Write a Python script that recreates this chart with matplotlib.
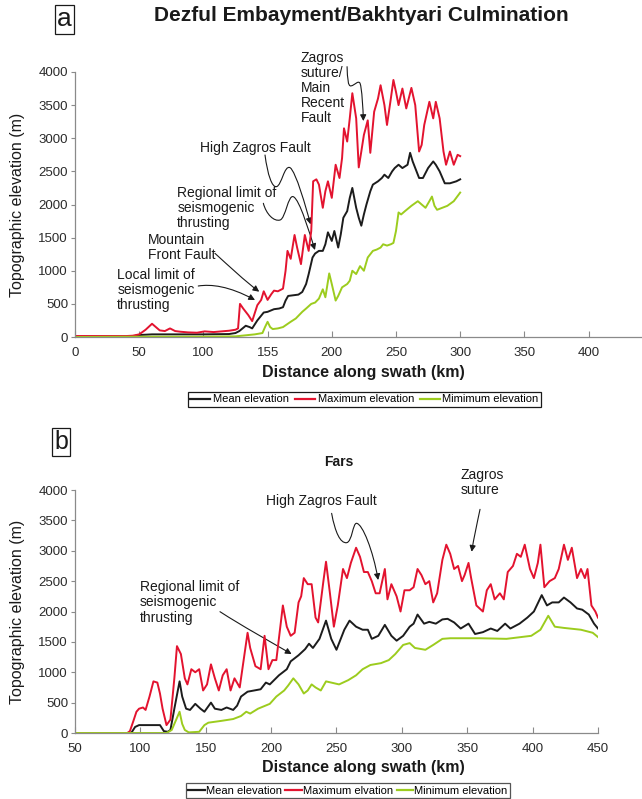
import matplotlib
matplotlib.use('Agg')
import matplotlib.pyplot as plt
import numpy as np
from matplotlib.path import Path
from matplotlib.patches import FancyArrowPatch
from matplotlib.lines import Line2D

plt.rcParams['font.family'] = ['Liberation Sans', 'DejaVu Sans']

RED = '#e3132f'
BLACK = '#1c1c1c'
GREEN = '#9ccc1e'
GREY = '#8a8a8a'

# ---- panel a: Dezful Embayment / Bakhtyari Culmination ----
a_max_km = [0, 20, 40, 45, 50, 55, 60, 63, 66, 70, 74, 78, 82, 88, 95, 101, 108, 114, 120, 125,
            127, 128.5, 131, 135, 138, 142, 145, 147, 150, 153, 155, 158, 162, 164, 165.5, 168,
            171, 173, 176, 179, 182, 184, 185.5, 188, 190, 193, 195, 197, 200, 203, 206, 208,
            209.5, 212, 214, 216, 219, 221, 223, 225, 228, 230, 233, 236, 238, 241, 243, 246,
            248, 250, 252, 255, 258, 262, 265, 268, 270, 272, 276, 279, 281, 284, 287, 289, 292,
            295, 298, 300]
a_max = [15, 15, 15, 20, 40, 110, 200, 150, 100, 90, 130, 90, 80, 70, 65, 85, 75, 85, 95, 110,
         130, 500, 430, 330, 240, 480, 560, 690, 560, 650, 700, 690, 730, 1000, 1300, 1180,
         1540, 1350, 1100, 1540, 1300, 1600, 2350, 2380, 2300, 1950, 2200, 2350, 2100, 2600, 2400, 2700,
         3150, 2950, 3300, 3680, 3300, 2560, 2800, 3050, 3270, 2780, 3400, 3600, 3800, 3500, 3200, 3600,
         3880, 3700, 3500, 3750, 3450, 3760, 3500, 2800, 2900, 3200, 3550, 3300, 3550, 3300, 2800, 2600, 2800,
         2600, 2750, 2730]

a_mean_km = [0, 40, 45, 50, 60, 80, 100, 120, 125, 128, 133, 136, 138, 142, 147, 150, 155, 159, 162,
             164, 166, 170, 174, 177, 180, 182, 185, 187, 190, 193, 195, 197, 200, 202, 205, 207, 209,
             212, 214, 216, 219, 221, 223, 225, 227, 230, 232, 236, 239, 241, 244, 247, 249, 252, 255,
             259, 261, 263, 266, 268, 271, 275, 279, 281, 284, 288, 292, 297, 300]
a_mean = [5, 5, 10, 30, 40, 40, 40, 45, 60, 90, 170, 150, 130, 250, 370, 380, 420, 430, 450,
          550, 620, 630, 640, 680, 800, 950, 1200, 1260, 1300, 1300, 1400, 1580, 1450, 1600, 1350, 1550, 1800,
          1900, 2100, 2250, 1950, 1800, 1680, 1850, 2000, 2200, 2300, 2350, 2400, 2450, 2400, 2500, 2550, 2600, 2550,
          2600, 2780, 2650, 2500, 2400, 2400, 2550, 2650, 2600, 2500, 2320, 2320, 2350, 2380]

a_min_km = [0, 50, 100, 125, 130, 140, 146, 148, 150, 152, 154, 158, 162, 165, 168, 172, 177, 180,
            184, 187, 190, 193, 195, 198, 200, 203, 205, 208, 212, 214, 216, 219, 222, 225, 228, 232,
            235, 238, 240, 243, 246, 248, 250, 252, 254, 257, 262, 267, 270, 273, 276, 278, 280, 282,
            286, 290, 295, 300]
a_min = [0, 5, 5, 10, 20, 40, 60, 150, 230, 150, 120, 130, 150, 190, 230, 280, 380, 430,
         500, 520, 580, 720, 600, 960, 800, 550, 620, 750, 800, 850, 1000, 950, 1070, 1000, 1200, 1300,
         1320, 1350, 1400, 1380, 1400, 1420, 1600, 1880, 1850, 1900, 1980, 2050, 2000, 1950, 2050, 2120, 1980, 1920,
         1950, 1980, 2050, 2180]

a_xticks = [0, 50, 100, 150, 200, 250, 300, 350, 400]
a_xticklabels = ['0', '50', '100', '155', '200', '250', '300', '350', '400']

# ---- panel b: Fars ----
b_max_km = [50, 90, 92, 94.7, 97, 99, 102, 104, 107, 110, 113, 115, 117, 120, 123, 126, 128, 131,
            134, 136, 139, 142, 145, 148, 151, 154, 157, 160, 163, 166, 169, 172, 176, 179, 182, 184,
            188, 192, 195, 198, 201, 204, 209, 212, 215, 218, 221, 223, 225, 228, 231, 234, 236, 240,
            242, 245, 248, 251, 255, 258, 261, 265, 268, 271, 274, 277, 280, 283, 287, 289, 292, 296,
            299, 302, 306, 309, 312, 315, 318, 321, 324, 327, 331, 334, 337, 340, 343, 346, 348, 351,
            353, 357, 362, 365, 368, 371, 375, 378, 381, 385, 388, 391, 394, 398, 401, 404, 406, 409,
            413, 417, 420, 424, 427, 430, 434, 437, 440, 442, 445, 448, 450]
b_max = [0, 0, 30, 200, 350, 400, 420, 380, 600, 850, 830, 650, 400, 130, 220, 900, 1430, 1300,
         900, 800, 1050, 1000, 1050, 700, 800, 1130, 900, 700, 950, 1050, 700, 900, 750, 1200, 1650, 1400,
         1100, 1050, 1600, 1050, 1200, 1200, 2100, 1750, 1600, 1650, 2150, 2250, 2550, 2450, 2450, 1900, 1820, 2500,
         2820, 2300, 1750, 2100, 2700, 2550, 2800, 3050, 2900, 2650, 2650, 2500, 2300, 2300, 2700, 2200, 2450, 2250,
         2000, 2350, 2350, 2400, 2700, 2600, 2450, 2500, 2150, 2300, 2850, 3100, 2950, 2700, 2750, 2500, 2600, 2800,
         2550, 2100, 2000, 2350, 2450, 2200, 2300, 2200, 2650, 2750, 2950, 2900, 3100, 2700, 2550, 2800, 3100, 2400,
         2500, 2550, 2700, 3100, 2850, 3050, 2550, 2700, 2550, 2700, 2100, 2000, 1900]

b_mean_km = [50, 93, 96, 99, 108, 115, 118, 121, 123, 126, 130, 132, 135, 138, 142, 146, 149, 154,
             157, 162, 166, 171, 174, 177, 182, 187, 192, 196, 199, 206, 212, 215, 221, 226, 229, 232,
             237, 242, 246, 250, 256, 260, 265, 270, 274, 277, 282, 287, 292, 296, 301, 306, 309, 312,
             317, 321, 326, 331, 335, 340, 345, 351, 356, 362, 368, 373, 379, 383, 390, 396, 401, 407,
             411, 415, 420, 424, 429, 434, 438, 443, 447, 450]
b_mean = [0, 0, 100, 130, 130, 130, 30, 20, 50, 400, 850, 600, 400, 380, 480, 400, 350, 500,
          400, 380, 420, 380, 450, 600, 680, 700, 720, 830, 800, 950, 1050, 1180, 1280, 1380, 1470, 1400,
          1550, 1850, 1550, 1370, 1700, 1850, 1750, 1700, 1700, 1550, 1600, 1780, 1600, 1520, 1600, 1750, 1800, 1950,
          1800, 1830, 1800, 1870, 1880, 1820, 1720, 1800, 1630, 1660, 1720, 1680, 1800, 1720, 1800, 1900, 2000, 2270,
          2100, 2150, 2150, 2230, 2150, 2050, 2030, 1950, 1800, 1720]

b_min_km = [50, 120, 124, 127, 130, 132, 134, 137, 145, 149, 152, 162, 171, 177, 181, 184, 190, 199,
            204, 210, 213, 217, 221, 225, 228, 231, 234, 238, 242, 246, 252, 259, 265, 270, 276, 284,
            290, 295, 301, 306, 310, 318, 324, 331, 337, 360, 380, 399, 406, 412, 417, 424, 437, 446, 450]
b_min = [0, 0, 50, 200, 350, 150, 50, 10, 20, 130, 170, 200, 230, 280, 350, 320, 400, 480,
         600, 700, 780, 900, 800, 650, 700, 800, 750, 700, 850, 830, 800, 870, 950, 1050, 1120, 1150,
         1200, 1300, 1450, 1480, 1400, 1370, 1450, 1550, 1560, 1560, 1550, 1600, 1700, 1930, 1750, 1730, 1700, 1650, 1580]

b_xticks = [50, 100, 150, 200, 250, 300, 350, 400, 450]
yticks = [0, 500, 1000, 1500, 2000, 2500, 3000, 3500, 4000]


def style_axes(ax):
    for s in ['top', 'right']:
        ax.spines[s].set_visible(False)
    for s in ['left', 'bottom']:
        ax.spines[s].set_color(GREY)
        ax.spines[s].set_linewidth(0.9)
    ax.tick_params(axis='x', direction='in', length=4, color=GREY, labelsize=9.5,
                   labelcolor='#2a2a2a', pad=7)
    ax.tick_params(axis='y', direction='out', length=3, color=GREY, labelsize=9.5,
                   labelcolor='#2a2a2a', pad=2)
    ax.set_ylim(0, 4000)
    ax.set_yticks(yticks)


def curved_arrow(ax, pts):
    # pts: start, then groups of three (two controls + end) for cubic segments
    codes = [Path.MOVETO] + [Path.CURVE4] * (len(pts) - 1)
    p = FancyArrowPatch(path=Path(pts, codes), arrowstyle='-|>', mutation_scale=9,
                        lw=0.8, color='#1a1a1a', transform=ax.transData, clip_on=False)
    ax.add_patch(p)


fig = plt.figure(figsize=(6.42, 7.99), dpi=100)

# ---------------- panel a ----------------
ax1 = fig.add_axes([0.1168, 0.5782, 0.8832, 0.3317])
ax1.plot(a_mean_km, a_mean, color=BLACK, lw=1.4)
ax1.plot(a_max_km, a_max, color=RED, lw=1.4)
ax1.plot(a_min_km, a_min, color=GREEN, lw=1.4)
style_axes(ax1)
ax1.set_xlim(0, 441.6)
ax1.set_xticks(a_xticks)
ax1.set_xticklabels(a_xticklabels)
ax1.set_xlabel('Distance along swath (km)', fontsize=11.5, fontweight='bold', color='#1a1a1a')
ax1.xaxis.set_label_coords(0.508, -0.105)
ax1.set_ylabel('Topographic elevation (m)', fontsize=11.5, color='#1a1a1a')
ax1.yaxis.set_label_coords(-0.088, 0.5)

tkw = dict(fontsize=10, color='#1a1a1a', ha='left', va='center', linespacing=1.1)
ax1.text(176.0, 3756, 'Zagros\nsuture/\nMain\nRecent\nFault', clip_on=False, **tkw)
ax1.text(97.3, 2848, 'High Zagros Fault', **tkw)
ax1.text(79.7, 1950, 'Regional limit of\nseismogenic\nthrusting', **tkw)
ax1.text(57.1, 1350, 'Mountain\nFront Fault', **tkw)
ax1.text(32.9, 715, 'Local limit of\nseismogenic\nthrusting', **tkw)

curved_arrow(ax1, [(211.9, 4080), (212.3, 3900), (212.5, 3780), (215.0, 3790),
                   (218.0, 3800), (220.5, 3880), (222.0, 3830),
                   (223.5, 3750), (224.3, 3450), (224.6, 3260)])
curved_arrow(ax1, [(148.0, 2747), (150.0, 2450), (153.5, 2250), (157.0, 2270),
                   (161.0, 2290), (163.0, 2600), (167.5, 2556),
                   (172.0, 2500), (180.0, 1950), (183.5, 1700)])
curved_arrow(ax1, [(146.7, 2018), (149.0, 1850), (155.0, 1740), (159.7, 1766),
                   (164.0, 1790), (166.0, 2150), (170.0, 2118),
                   (175.0, 2080), (183.0, 1550), (186.9, 1313)])
curved_arrow(ax1, [(109.0, 1263), (120.0, 1070), (132.0, 850), (143.5, 684)])
curved_arrow(ax1, [(96.0, 770), (106.0, 800), (120.0, 770), (140.2, 558)])

fig.text(0.5623, 0.981, 'Dezful Embayment/Bakhtyari Culmination', fontsize=15,
         fontweight='bold', color='#1a1a1a', ha='center', va='center')
fig.text(0.1005, 0.9756, 'a', fontsize=19, color='#1a1a1a', ha='center', va='center',
         bbox=dict(boxstyle='square,pad=0.08', fc='white', ec='#1a1a1a', lw=0.9))

handles = [Line2D([], [], color=BLACK, lw=1.6), Line2D([], [], color=RED, lw=1.6),
           Line2D([], [], color=GREEN, lw=1.6)]
leg1 = fig.legend(handles, ['Mean elevation', 'Maximum elevation', 'Mimimum elevation'],
                  loc='center', bbox_to_anchor=(0.5678, 0.5), ncol=3, fontsize=8,
                  handlelength=1.8, handletextpad=0.25, columnspacing=0.5, borderpad=0.25,
                  fancybox=False, framealpha=1, edgecolor='#1a1a1a')
leg1.get_frame().set_linewidth(0.9)

# ---------------- panel b ----------------
ax2 = fig.add_axes([0.1168, 0.0826, 0.8146, 0.3041])
ax2.plot(b_mean_km, b_mean, color=BLACK, lw=1.4)
ax2.plot(b_max_km, b_max, color=RED, lw=1.4)
ax2.plot(b_min_km, b_min, color=GREEN, lw=1.4)
style_axes(ax2)
ax2.set_xlim(50, 450)
ax2.set_xticks(b_xticks)
ax2.set_xlabel('Distance along swath (km)', fontsize=11.5, fontweight='bold', color='#1a1a1a')
ax2.xaxis.set_label_coords(0.551, -0.112)
ax2.set_ylabel('Topographic elevation (m)', fontsize=11.5, color='#1a1a1a')
ax2.yaxis.set_label_coords(-0.096, 0.5)

ax2.text(251.5, 4466, 'Fars', fontsize=10, fontweight='bold', color='#1a1a1a',
         ha='center', va='center', clip_on=False)
ax2.text(196.0, 3819, 'High Zagros Fault', **tkw)
ax2.text(345.0, 4121, 'Zagros\nsuture', clip_on=False, **tkw)
ax2.text(99.7, 2150, 'Regional limit of\nseismogenic\nthrusting', **tkw)

curved_arrow(ax2, [(246.3, 3616), (249.0, 3300), (253.0, 3120), (257.8, 3133),
                   (262.0, 3150), (262.5, 3460), (265.4, 3452),
                   (270.0, 3440), (278.0, 3000), (281.9, 2518)])
curved_arrow(ax2, [(359.8, 3682), (357.5, 3450), (355.0, 3200), (353.4, 2984)])
curved_arrow(ax2, [(160.9, 1997), (178.0, 1760), (198.0, 1520), (215.7, 1300)])

fig.text(0.095, 0.4468, 'b', fontsize=18, color='#1a1a1a', ha='center', va='center',
         bbox=dict(boxstyle='square,pad=0.08', fc='white', ec='#1a1a1a', lw=0.9))

leg2 = fig.legend(handles, ['Mean elevation', 'Maximum elvation', 'Minimum elevation'],
                  loc='center', bbox_to_anchor=(0.542, 0.0106), ncol=3, fontsize=8,
                  handlelength=1.5, handletextpad=0.1, columnspacing=0.3, borderpad=0.2,
                  fancybox=False, framealpha=1, edgecolor='#555555')
leg2.get_frame().set_linewidth(0.9)

fig.savefig('out.png', dpi=100)
